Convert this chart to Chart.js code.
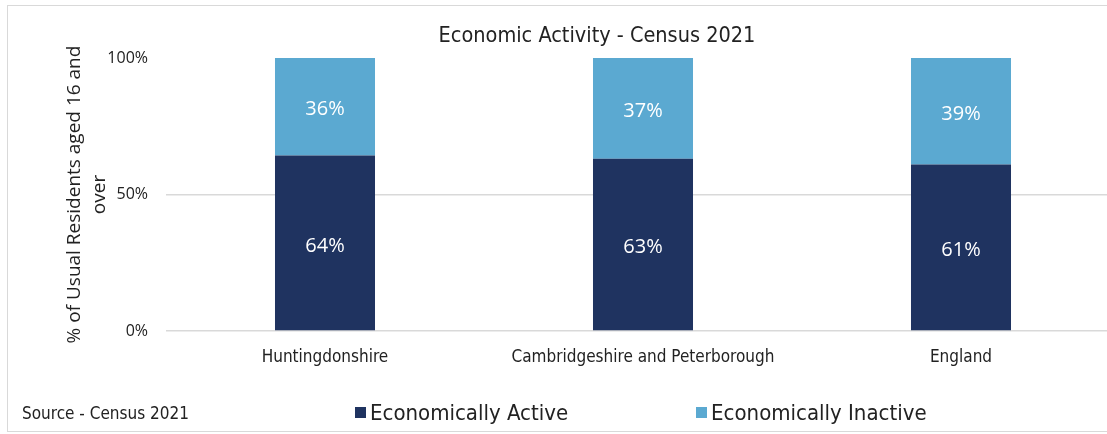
<!DOCTYPE html>
<html>
<head>
<meta charset="utf-8">
<script src="https://cdn.jsdelivr.net/npm/chart.js@4.4.1/dist/chart.umd.min.js"></script>
<style>
    html, body { margin: 0; padding: 0; background: #fff; overflow: hidden; width: 1107px; height: 434px; }
    #frame { position: absolute; left: 7px; top: 5px; width: 1300px; height: 425px; border: 1.5px solid #d9d9d9; }
    #wrap { position: absolute; left: 0; top: 0; width: 1282px; height: 434px; }
    .cond { font-family: 'DejaVu Sans Condensed', 'DejaVu Sans', sans-serif; font-stretch: condensed; color: #222; white-space: nowrap; line-height: 1.2; }
    #title { position: absolute; left: 347px; width: 500px; top: 22px; text-align: center; font-size: 21.5px; }
    #source { position: absolute; left: 22px; top: 403px; font-size: 17px; }
    #legend { position: absolute; top: 400px; left: 355px; font-size: 22px; }
    #legend span.item { display: inline-block; }
    #legend span.box { display: inline-block; width: 11px; height: 11px; margin-right: 4px; vertical-align: 2px; }
</style>
</head>
<body>
<div id="frame"></div>
<div id="wrap"><canvas id="myChart"></canvas></div>
<div id="title" class="cond">Economic Activity - Census 2021</div>
<div id="source" class="cond">Source - Census 2021</div>
<div id="legend" class="cond"></div>
<script>
const categories = ['Huntingdonshire', 'Cambridgeshire and Peterborough', 'England'];
const activeValues = [64.3, 63.1, 61.0];
const inactiveValues = [35.7, 36.9, 39.0];
const seriesNames = ['Economically Active', 'Economically Inactive'];
const yTicks = [0, 50, 100];
const yTitle = ['% of Usual Residents aged 16 and', 'over'];

const darkBlue = '#1f3360';
const lightBlue = '#5ba9d1';
const condFont = "'DejaVu Sans Condensed', 'DejaVu Sans', sans-serif";
const openFont = "'Open Sans', sans-serif";

// etiquetas blancas dentro de cada tramo de la barra
const barLabels = {
    id: 'barLabels',
    afterDatasetsDraw(chart) {
        const ctx = chart.ctx;
        ctx.save();
        ctx.fillStyle = '#ffffff';
        ctx.font = '20px ' + openFont;
        ctx.textAlign = 'center';
        ctx.textBaseline = 'middle';
        chart.data.datasets.forEach((ds, i) => {
            chart.getDatasetMeta(i).data.forEach((bar, j) => {
                const y = (bar.y + bar.base) / 2 + 3;
                ctx.fillText(Math.round(ds.data[j]) + '%', bar.x, y);
            });
        });
        ctx.restore();
    }
};

const ctx = document.getElementById('myChart').getContext('2d');
const myChart = new Chart(ctx, {
    type: 'bar',
    data: {
        labels: categories,
        datasets: [
            { label: seriesNames[0], data: activeValues, backgroundColor: darkBlue },
            { label: seriesNames[1], data: inactiveValues, backgroundColor: lightBlue }
        ]
    },
    options: {
        responsive: true,
        maintainAspectRatio: false,
        animation: false,
        layout: { padding: { top: 58, right: 162, bottom: 63, left: 0 } },
        datasets: { bar: { categoryPercentage: 1, barPercentage: 0.3145, borderWidth: 0 } },
        plugins: {
            legend: { display: false },
            tooltip: { enabled: false }
        },
        scales: {
            x: {
                stacked: true,
                grid: { display: false },
                border: { display: false },
                ticks: { color: '#222', font: { family: condFont, size: 17 }, padding: 8, maxRotation: 0 },
                afterFit: scale => { scale.height = 40; }
            },
            y: {
                stacked: true,
                min: 0,
                max: 100,
                afterBuildTicks: scale => { scale.ticks = yTicks.map(v => ({ value: v })); },
                grid: {
                    color: c => (c.tick && c.tick.value === 100) ? 'rgba(0,0,0,0)' : '#d9d9d9',
                    lineWidth: 1.5,
                    drawTicks: false
                },
                border: { display: false },
                ticks: { color: '#222', font: { family: openFont, size: 16 }, padding: 18, callback: v => v + '%' },
                title: {
                    display: true,
                    text: yTitle,
                    color: '#222',
                    font: { family: openFont, size: 19, lineHeight: 1.27 },
                    padding: { top: 63, bottom: 0 }
                },
                afterFit: scale => { scale.width = 166; }
            }
        }
    },
    plugins: [barLabels]
});

// leyenda en HTML a partir de los datasets
const legendDiv = document.getElementById('legend');
myChart.data.datasets.forEach((ds, i) => {
    const item = document.createElement('span');
    item.className = 'item';
    if (i > 0) item.style.marginLeft = '128px';
    const box = document.createElement('span');
    box.className = 'box';
    box.style.background = ds.backgroundColor;
    item.appendChild(box);
    item.appendChild(document.createTextNode(ds.label));
    legendDiv.appendChild(item);
});
</script>
</body>
</html>
